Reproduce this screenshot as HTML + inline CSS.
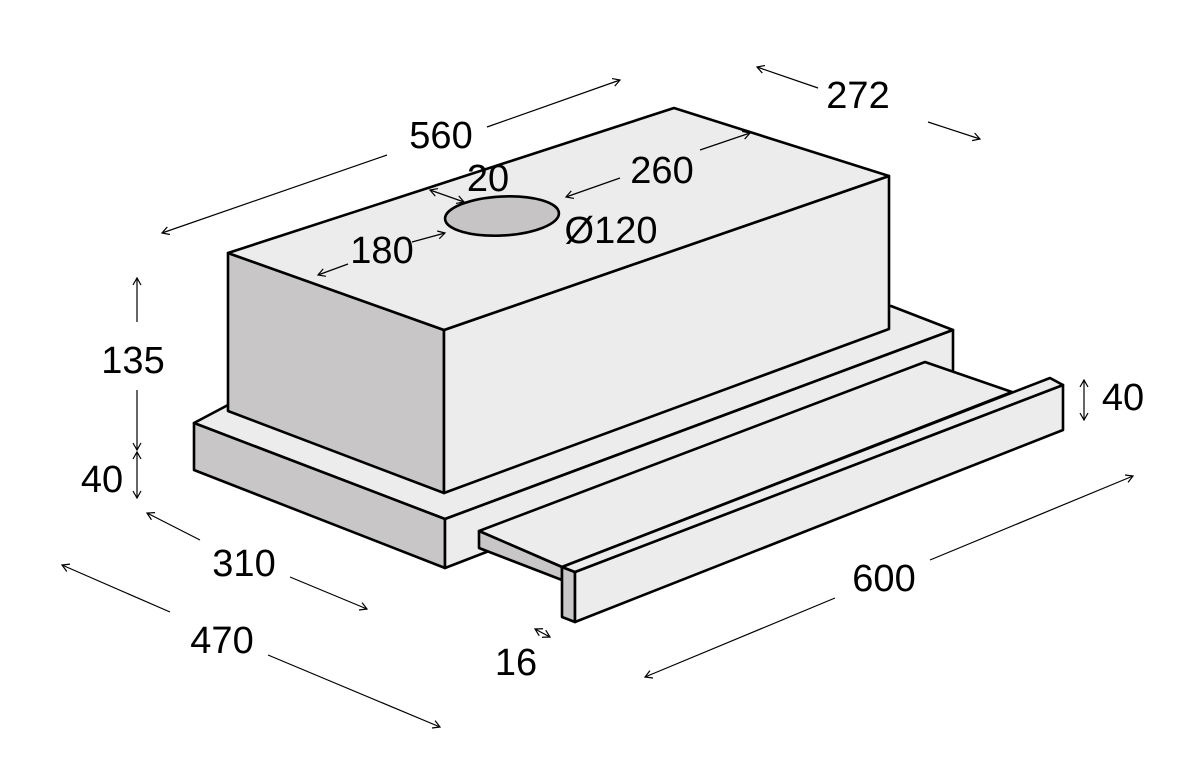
<!DOCTYPE html>
<html><head><meta charset="utf-8"><style>
html,body{margin:0;padding:0;background:#fff;}
svg{display:block;}
text{font-family:"Liberation Sans",sans-serif;font-size:38px;fill:#000;text-anchor:middle;}
</style></head><body>
<svg width="1200" height="775" viewBox="0 0 1200 775" xmlns="http://www.w3.org/2000/svg">
<defs>
<marker id="a" markerWidth="12" markerHeight="12" refX="10" refY="6" orient="auto" markerUnits="userSpaceOnUse">
<path d="M3,2 L10,6 L3,10" fill="none" stroke="#000" stroke-width="1.2"/>
</marker>
<marker id="b" markerWidth="12" markerHeight="12" refX="2" refY="6" orient="auto" markerUnits="userSpaceOnUse">
<path d="M9,2 L2,6 L9,10" fill="none" stroke="#000" stroke-width="1.2"/>
</marker>
</defs>
<g stroke="#000" stroke-width="2.6" stroke-linejoin="round">
<!-- base plate -->
<polygon points="194,423 445,519 953,330 891,306 228,405" fill="#ececec"/>
<polygon points="194,423 445,519 445,568 194,470" fill="#c8c6c7"/>
<polygon points="445,519 953,330 953,372 445,568" fill="#ececec"/>
<!-- top box -->
<polygon points="228,253 444,330 444,493 228,411" fill="#c8c6c7"/>
<polygon points="444,330 889,176 889,329 444,493" fill="#ececec"/>
<polygon points="228,253 674,108 889,176 444,330" fill="#ececec"/>
<ellipse cx="502" cy="216" rx="57" ry="19.5" fill="#c6c4c5" transform="rotate(-3 502 216)"/>
<!-- drawer -->
<polygon points="479,531 925,362 1012,392 562,567" fill="#ececec"/>
<polygon points="479,531 562,567 562,580 479,548" fill="#c8c6c7"/>
<polygon points="562,567 575,572 575,622 562,617" fill="#c8c6c7"/>
<polygon points="575,572 1063,385 1063,430 575,622" fill="#ececec"/>
<polygon points="562,567 1050,378 1063,385 575,572" fill="#ececec"/>
</g>
<g stroke="#000" stroke-width="1.2" fill="none">
<!-- 560 -->
<line x1="387" y1="155" x2="162" y2="233" marker-end="url(#a)"/>
<line x1="487" y1="127" x2="620" y2="80" marker-end="url(#a)"/>
<!-- 272 -->
<line x1="818" y1="88" x2="757" y2="67" marker-end="url(#a)"/>
<line x1="928" y1="122" x2="980" y2="139" marker-end="url(#a)"/>
<!-- 260 -->
<line x1="700" y1="150" x2="750" y2="133" marker-end="url(#a)"/>
<line x1="620" y1="178" x2="566" y2="197" marker-end="url(#a)"/>
<!-- 20 -->
<line x1="430" y1="190" x2="464" y2="202" marker-start="url(#b)" marker-end="url(#a)"/>
<!-- 180 -->
<line x1="412" y1="242" x2="445" y2="233" marker-end="url(#a)"/>
<line x1="348" y1="264" x2="318" y2="275" marker-end="url(#a)"/>
<!-- 135 / 40 -->
<line x1="137" y1="322" x2="137" y2="278" marker-end="url(#a)"/>
<line x1="137" y1="390" x2="137" y2="450" marker-end="url(#a)"/>
<line x1="137" y1="452" x2="137" y2="498" marker-start="url(#b)" marker-end="url(#a)"/>
<!-- 310 -->
<line x1="200" y1="540" x2="147" y2="513" marker-end="url(#a)"/>
<line x1="290" y1="577" x2="367" y2="609" marker-end="url(#a)"/>
<!-- 470 -->
<line x1="170" y1="612" x2="62" y2="565" marker-end="url(#a)"/>
<line x1="268" y1="655" x2="440" y2="727" marker-end="url(#a)"/>
<!-- 16 -->
<line x1="535" y1="629" x2="550" y2="637" marker-start="url(#b)" marker-end="url(#a)"/>
<!-- 600 -->
<line x1="835" y1="598" x2="645" y2="677" marker-end="url(#a)"/>
<line x1="930" y1="560" x2="1133" y2="476" marker-end="url(#a)"/>
<!-- 40 right -->
<line x1="1084" y1="380" x2="1084" y2="420" marker-start="url(#b)" marker-end="url(#a)"/>
</g>
<text x="441" y="148">560</text>
<text x="858" y="108">272</text>
<text x="662" y="183">260</text>
<text x="488" y="191">20</text>
<text x="382" y="263">180</text>
<text x="611" y="243">Ø120</text>
<text x="133" y="373">135</text>
<text x="102" y="492">40</text>
<text x="244" y="576">310</text>
<text x="222" y="653">470</text>
<text x="516" y="675">16</text>
<text x="884" y="591">600</text>
<text x="1123" y="410">40</text>
</svg>
</body></html>
